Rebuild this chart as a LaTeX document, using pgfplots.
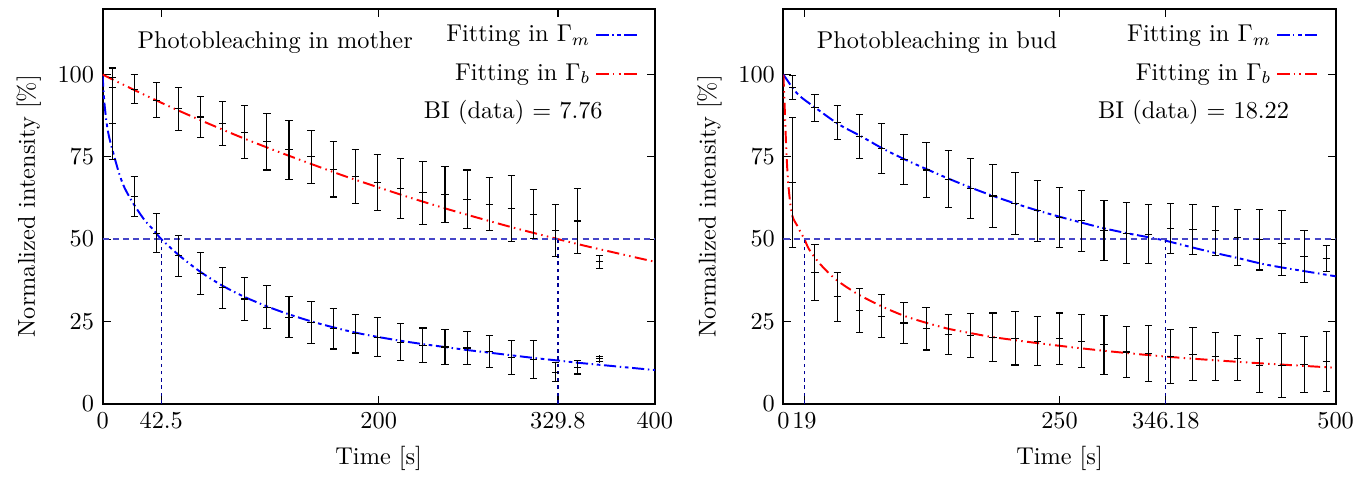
\documentclass[border=0pt]{standalone}
\usepackage{pgfplots}
\usepackage{pgfplotstable}
\pgfplotsset{compat=1.18}

\definecolor{colH}{RGB}{70,70,200}
\definecolor{colV}{RGB}{0,0,150}

% left panel (mother): t, mean, error
\pgfplotstableread{
t   m     e
7   99.0  3.0
23  95.6  4.3
39  92.2  5.3
55  89.6  6.6
71  87.1  6.3
87  85.2  6.7
103 82.5  8.1
119 79.6  8.6
135 77.1  9.0
151 75.0  8.1
167 71.2  8.4
183 69.0  8.1
199 67.2  8.5
216 65.4  9.0
232 64.1  9.6
248 63.6  8.6
264 62.1  8.9
280 60.6  8.1
296 59.3  10.1
312 57.6  7.5
328 52.5  7.9
344 55.5  10.0
360 43.1  1.9
}\motherB

\pgfplotstableread{
t   m     e
7   85.2  11.0
23  62.9  6.0
39  51.8  6.0
55  44.9  6.3
71  39.6  6.3
87  35.2  6.2
103 31.8  6.4
119 29.3  6.5
135 26.3  6.2
151 24.7  6.3
167 22.7  6.1
183 21.2  5.8
199 20.2  5.9
216 18.7  5.7
232 17.7  5.3
248 17.2  5.2
264 16.9  4.9
280 15.9  4.8
296 14.1  5.2
312 13.4  5.8
328 9.6   2.9
344 11.1  2.1
360 13.6  0.8
}\motherM

% right panel (bud)
\pgfplotstableread{
t     m     e
8.4   96.1  3.6
28.5  89.9  4.1
48.7  85.4  5.2
68.8  81.3  6.7
88.9  77.5  7.5
109.1 74.2  7.6
129.2 71.0  8.4
149.3 68.2  8.6
169.4 65.4  9.1
189.6 63.1  9.5
209.7 60.9  9.4
229.8 58.6  9.2
250.0 56.6  9.2
270.1 55.6  9.3
290.2 52.5  9.1
310.4 51.8  9.3
330.5 51.5  8.9
350.6 53.2  7.7
370.7 52.8  7.6
390.9 52.5  7.5
411.0 50.5  8.5
431.1 49.8  9.2
451.3 48.8  9.8
471.4 44.7  7.9
491.5 44.1  4.0
}\budM

\pgfplotstableread{
t     m     e
8.4   67.2  19.7
28.5  39.9  8.5
48.7  32.5  7.45
68.8  28.3  6.8
88.9  26.6  6.55
109.1 24.5  6.2
129.2 22.7  6.4
149.3 21.0  6.2
169.4 20.7  6.8
189.6 20.2  7.35
209.7 19.9  8.15
229.8 19.0  7.45
250.0 19.7  7.85
270.1 19.0  8.1
290.2 17.9  9.0
310.4 15.7  7.8
330.5 15.2  8.55
350.6 14.4  8.15
370.7 15.0  8.05
390.9 14.4  7.3
411.0 13.8  6.85
431.1 11.6  8.3
451.3 11.6  9.8
471.4 11.9  8.6
491.5 12.8  9.2
}\budB

\pgfplotsset{
  bleach/.style={
    scale only axis,
    width=227.1pt, height=162.4pt,
    ymin=0, ymax=120,
    ytick={0,25,50,75,100},
    xlabel={Time [s]},
    ylabel={Normalized intensity [\%]},
    axis line style={line width=0.8pt},
    major tick length=3.3pt,
    tick style={line width=0.5pt, black},
    legend plot pos=right,
    legend cell align=right,
    legend style={draw=none, fill=none, at={(0.985,0.985)},
      anchor=north east, row sep=3.6pt},
  },
  fitm/.style={blue, line width=0.8pt, no marks,
    dash pattern=on 5pt off 1.5pt on 0.6pt off 1.5pt on 1.5pt off 1.5pt},
  fitb/.style={red, line width=0.8pt, no marks,
    dash pattern=on 5pt off 1.8pt on 0.6pt off 1.8pt on 0.6pt off 1.8pt},
  hl/.style={colH, line width=0.55pt, dash pattern=on 2.5pt off 1.7pt, forget plot},
  vl/.style={colV, line width=0.5pt, dash pattern=on 1.5pt off 1.5pt, forget plot},
  dat/.style={black, only marks, mark=+, mark size=1.5pt, line width=0.45pt,
    forget plot,
    error bars/.cd, y dir=both, y explicit,
    error bar style={line width=0.45pt},
    error mark options={rotate=90, mark size=1.5pt, line width=0.45pt}},
}

\begin{document}
\begin{tikzpicture}
\path (-42.2pt,-28.3pt) rectangle (516.2pt,166pt);

\begin{axis}[bleach,
  xmin=0, xmax=400,
  xtick={0,42.5,200,329.8,400},
  xticklabels={0,42.5,200,329.8,400}]
\addplot[fitm, smooth] coordinates {
(0,100)(0.5,96)(1,93)(1.5,90.5)(2,88.5)(3,85)(4,82.5)(5,80.5)(7,77.3)
(9.5,73.5)(12.3,69.5)(16,65.5)(22,61)(30,56)(37.5,52.5)(42.5,50)
(55.6,45)(71,40)(87,35.8)(103,32.4)(120,29.4)(136,27)(152,24.9)
(168,23.1)(183,21.6)(199,20.3)(216,19.1)(232,18.1)(248,17.2)(264,16.3)
(280,15.5)(296,14.7)(312,13.9)(329.8,13.1)(345,12.4)(360,11.8)(380,11)(400,10.2)};
\addlegendentry{Fitting in $\Gamma_m$}
\addplot[fitb, smooth] coordinates {
(0,100)(25,94.9)(50,90.0)(75,85.4)(100,81.0)(125,76.9)(150,73.0)
(175,69.2)(200,65.7)(225,62.3)(250,59.1)(275,56.1)(300,53.2)
(329.8,50)(350,47.9)(375,45.5)(400,43.1)};
\addlegendentry{Fitting in $\Gamma_b$}
\addplot[hl] coordinates {(0,50)(400,50)};
\addplot[vl] coordinates {(42.5,0)(42.5,50)};
\addplot[vl] coordinates {(329.8,0)(329.8,50)};
\addplot[dat] table[x=t, y=m, y error=e] {\motherB};
\addplot[dat] table[x=t, y=m, y error=e] {\motherM};
\node at (axis cs:125,109.7) {Photobleaching in mother};
\node at (axis cs:297.5,88.5) {BI (data) $=$ 7.76};
\end{axis}

\begin{axis}[bleach, at={(280pt,0)},
  xmin=0, xmax=500,
  xtick={0,19,250,346.18,500},
  xticklabels={0,19,250,346.18,500}]
\addplot[fitm, smooth] coordinates {
(0,100)(4,98)(8.4,95.9)(15,93.4)(29,89.9)(50,84.9)(70,81.3)(90,77.5)
(110,74.2)(130,71.2)(150,68.3)(170,65.6)(190,63.1)(210,60.8)(230,58.7)
(250,56.8)(270,55.0)(290,53.3)(311,51.8)(330,50.6)(346.18,49.5)
(371,47.4)(392,45.7)(412,44.2)(432,42.6)(451,41.4)(471,40.3)(500,38.7)};
\addlegendentry{Fitting in $\Gamma_m$}
\addplot[fitb, smooth] coordinates {
(0,100)(0.5,95)(1.2,89.4)(2,82)(3,74.2)(4,68.5)(5.1,64.1)(6.5,60)
(8.1,57)(10,55.5)(12.6,54)(15.6,52)(19,50)(23,47)(30.7,43.4)(40,40)
(48.7,37.4)(60,34.8)(69.8,32.8)(90,29.4)(110,26.6)(130,24.5)(150,22.7)
(170,21.4)(190,20.2)(230,18.4)(270,16.8)(310,15.4)(350,14.2)(390,13.2)
(430,12.3)(470,11.5)(500,10.9)};
\addlegendentry{Fitting in $\Gamma_b$}
\addplot[hl] coordinates {(0,50)(500,50)};
\addplot[vl] coordinates {(19,0)(19,50)};
\addplot[vl] coordinates {(346.18,0)(346.18,50)};
\addplot[dat] table[x=t, y=m, y error=e] {\budM};
\addplot[dat] table[x=t, y=m, y error=e] {\budB};
\node at (axis cs:139,109.7) {Photobleaching in bud};
\node at (axis cs:371.4,88.5) {BI (data) $=$ 18.22};
\end{axis}
\end{tikzpicture}
\end{document}
